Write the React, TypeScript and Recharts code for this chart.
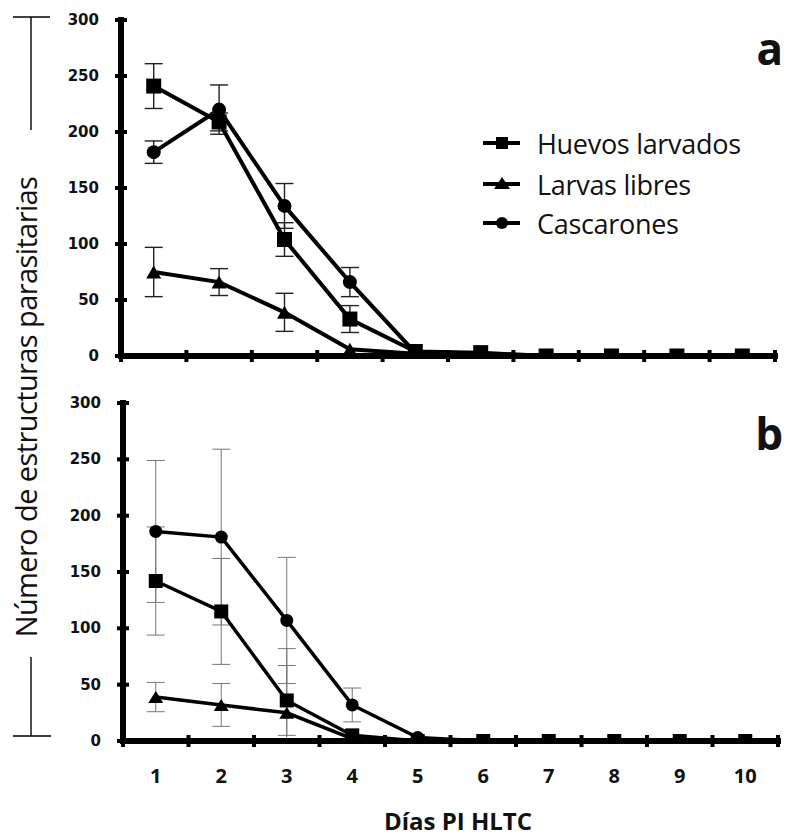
import React from 'react';
import { LineChart, Line, XAxis, YAxis, ErrorBar } from 'recharts';

// days post infection
const days = [1, 2, 3, 4, 5, 6, 7, 8, 9, 10];
const yTicks = [0, 50, 100, 150, 200, 250, 300];

// panel a
const huevosA = [241, 209, 104, 33, 4, 3, 0, 0, 0, 0];
const huevosAErr = [20, 8, 15, 12, null, null, null, null, null, null];
const larvasA = [75, 66, 39, 6, 2, 1, 0, 0, 0, 0];
const larvasAErr = [22, 12, 17, null, null, null, null, null, null, null];
const cascaronesA = [182, 220, 134, 66, 3, 2, 0, 0, 0, 0];
const cascaronesAErr = [10, 22, 20, 13, null, null, null, null, null, null];

// panel b
const huevosB = [142, 115, 36, 5, 0, 0, 0, 0, 0, 0];
const huevosBErr = [48, 47, 31, null, null, null, null, null, null, null];
const larvasB = [39, 32, 25, 2, 0, 0, 0, 0, 0, 0];
const larvasBErr: (number | number[] | null)[] = [13, 19, [25, 57], null, null, null, null, null, null, null];
const cascaronesB = [186, 181, 107, 32, 3, 0, 0, 0, 0, 0];
const cascaronesBErr = [63, 78, 56, 15, null, null, null, null, null, null];

const legendItems = ['Huevos larvados', 'Larvas libres', 'Cascarones'];

// tick marks sit between days, labels on the days
const xTicks = [...days.flatMap((d) => [d - 0.5, d]), 10.5];

const rowsA = days.map((d, i) => ({
  day: d,
  huevos: huevosA[i],
  huevosErr: huevosAErr[i],
  larvas: larvasA[i],
  larvasErr: larvasAErr[i],
  cascarones: cascaronesA[i],
  cascaronesErr: cascaronesAErr[i],
}));

const rowsB = days.map((d, i) => ({
  day: d,
  huevos: huevosB[i],
  huevosErr: huevosBErr[i],
  larvas: larvasB[i],
  larvasErr: larvasBErr[i],
  cascarones: cascaronesB[i],
  cascaronesErr: cascaronesBErr[i],
}));

const squareDot = (size: number) => (p: any) => (
  <rect key={p.index} x={p.cx - size / 2} y={p.cy - size / 2} width={size} height={size} fill="#000" />
);
const circleDot = (r: number) => (p: any) => <circle key={p.index} cx={p.cx} cy={p.cy} r={r} fill="#000" />;
const triangleDot = (w: number, h: number) => (p: any) => (
  <polygon
    key={p.index}
    points={`${p.cx - w / 2},${p.cy + h / 2} ${p.cx + w / 2},${p.cy + h / 2} ${p.cx},${p.cy - h / 2}`}
    fill="#000"
  />
);

const YTick = (p: any) => (
  <g>
    <line x1={p.x - 6} x2={p.x + 6} y1={p.y} y2={p.y} stroke="#000" strokeWidth={4} />
    <text
      x={p.x - 22}
      y={p.y}
      textAnchor="end"
      dominantBaseline="central"
      fontFamily="DejaVu Sans"
      fontWeight="bold"
      fontSize={15}
      fill="#111"
    >
      {p.payload.value}
    </text>
  </g>
);

const makeXTick = (showLabels: boolean) => (p: any) => {
  const v = p.payload.value;
  if (Number.isInteger(v)) {
    if (!showLabels) return <g />;
    return (
      <text
        x={p.x}
        y={p.y + 42}
        textAnchor="middle"
        fontFamily="Open Sans"
        fontWeight={700}
        fontSize={20}
        fill="#111"
      >
        {v}
      </text>
    );
  }
  return <line x1={p.x} x2={p.x} y1={p.y - 6} y2={p.y + 6} stroke="#000" strokeWidth={4} />;
};

const axisLine = { stroke: '#000', strokeWidth: 6, strokeLinecap: 'square' as const };

interface PanelProps {
  rows: any[];
  width: number;
  height: number;
  margin: { top: number; right: number; left: number; bottom: number };
  yWidth: number;
  xHeight: number;
  showLabels: boolean;
  lineWidth: number;
  errStroke: string;
  errWidth: number;
  sq: number;
  cr: number;
  tw: number;
  th: number;
}

function Panel(props: PanelProps) {
  const { rows, errStroke, errWidth } = props;
  return (
    <LineChart width={props.width} height={props.height} data={rows} margin={props.margin}>
      <XAxis
        dataKey="day"
        type="number"
        domain={[0.5, 10.5]}
        ticks={xTicks}
        interval={0}
        tickSize={0}
        tickMargin={0}
        tickLine={false}
        tick={makeXTick(props.showLabels)}
        axisLine={axisLine}
        height={props.xHeight}
        allowDataOverflow
      />
      <YAxis
        type="number"
        domain={[0, 300]}
        ticks={yTicks}
        interval={0}
        tickSize={0}
        tickMargin={0}
        tickLine={false}
        tick={YTick}
        axisLine={axisLine}
        width={props.yWidth}
        allowDataOverflow
      />
      <Line
        type="linear"
        dataKey="larvas"
        stroke="#000"
        strokeWidth={props.lineWidth}
        dot={triangleDot(props.tw, props.th)}
        activeDot={false}
        isAnimationActive={false}
      >
        <ErrorBar dataKey="larvasErr" width={9} stroke={errStroke} strokeWidth={errWidth} direction="y" />
      </Line>
      <Line
        type="linear"
        dataKey="cascarones"
        stroke="#000"
        strokeWidth={props.lineWidth}
        dot={circleDot(props.cr)}
        activeDot={false}
        isAnimationActive={false}
      >
        <ErrorBar dataKey="cascaronesErr" width={9} stroke={errStroke} strokeWidth={errWidth} direction="y" />
      </Line>
      <Line
        type="linear"
        dataKey="huevos"
        stroke="#000"
        strokeWidth={props.lineWidth}
        dot={squareDot(props.sq)}
        activeDot={false}
        isAnimationActive={false}
      >
        <ErrorBar dataKey="huevosErr" width={9} stroke={errStroke} strokeWidth={errWidth} direction="y" />
      </Line>
    </LineChart>
  );
}

export default function App() {
  return (
    <div
      style={{
        position: 'absolute',
        left: 0,
        top: 0,
        width: 786,
        height: 840,
        background: '#fff',
        fontFamily: 'Open Sans, sans-serif',
      }}
    >
      <div style={{ position: 'absolute', left: 0, top: 0 }}>
        <Panel
          rows={rowsA}
          width={786}
          height={380}
          margin={{ top: 20, right: 11, left: 0, bottom: 0 }}
          yWidth={121}
          xHeight={24}
          showLabels={false}
          lineWidth={4}
          errStroke="#222"
          errWidth={1.4}
          sq={15}
          cr={7}
          tw={15}
          th={13}
        />
      </div>
      <div style={{ position: 'absolute', left: 0, top: 383 }}>
        <Panel
          rows={rowsB}
          width={786}
          height={418}
          margin={{ top: 20, right: 8, left: 0, bottom: 0 }}
          yWidth={123}
          xHeight={60}
          showLabels={true}
          lineWidth={3.5}
          errStroke="#777"
          errWidth={1}
          sq={14}
          cr={6.5}
          tw={15}
          th={12}
        />
      </div>
      <svg
        width={786}
        height={840}
        style={{ position: 'absolute', left: 0, top: 0, pointerEvents: 'none' }}
      >
        {/* legend */}
        {legendItems.map((label, i) => {
          const y = [143, 184, 223][i];
          return (
            <g key={label}>
              <line x1={483} x2={520} y1={y} y2={y} stroke="#000" strokeWidth={4} />
              {i === 0 && <rect x={496} y={y - 6} width={12} height={12} fill="#000" />}
              {i === 1 && <polygon points={`${494},${y + 5} ${510},${y + 5} ${502},${y - 7}`} fill="#000" />}
              {i === 2 && <circle cx={502} cy={y} r={6} fill="#000" />}
              <text x={537} y={y} dominantBaseline="central" fontFamily="Open Sans" fontSize={27} letterSpacing={-0.3} fill="#111">
                {label}
              </text>
            </g>
          );
        })}
        <text x={783} y={65} textAnchor="end" fontFamily="Open Sans" fontWeight={700} fontSize={44} fill="#111">
          a
        </text>
        <text x={783} y={450} textAnchor="end" fontFamily="Open Sans" fontWeight={700} fontSize={44} fill="#111">
          b
        </text>
        {/* y title with bracket */}
        <line x1={13} x2={50} y1={17} y2={17} stroke="#000" strokeWidth={1.4} />
        <line x1={31} x2={31} y1={17} y2={130} stroke="#000" strokeWidth={1.4} />
        <line x1={31} x2={31} y1={657} y2={736} stroke="#000" strokeWidth={1.4} />
        <line x1={13} x2={51} y1={736} y2={736} stroke="#000" strokeWidth={1.4} />
        <text
          x={25}
          y={407}
          transform="rotate(-90 25 407)"
          textAnchor="middle"
          dominantBaseline="central"
          fontFamily="Open Sans"
          fontSize={29}
          letterSpacing={-0.6}
          fill="#111"
        >
          Número de estructuras parasitarias
        </text>
        <text x={458} y={830} textAnchor="middle" fontFamily="Open Sans" fontWeight={700} fontSize={24} fill="#111">
          Días PI HLTC
        </text>
      </svg>
    </div>
  );
}
